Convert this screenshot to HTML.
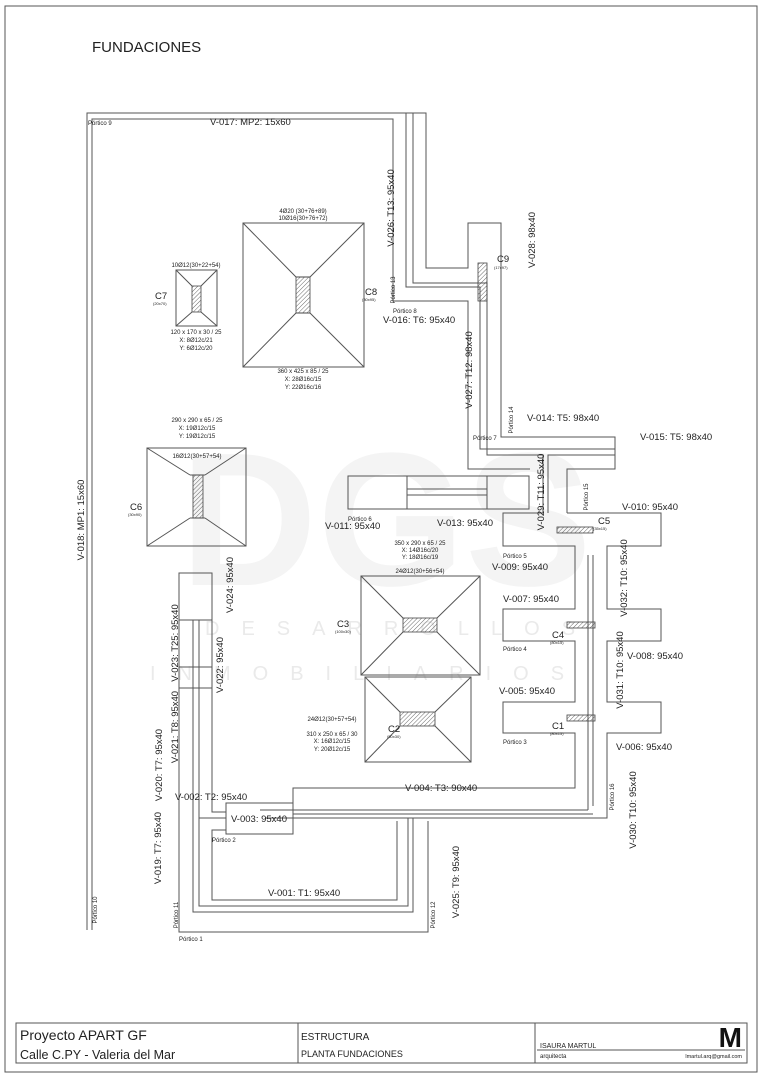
<!DOCTYPE html>
<html><head><meta charset="utf-8"><style>
html,body{margin:0;padding:0;background:#fff}
svg{display:block}
text{font-family:"Liberation Sans",sans-serif;fill:#222}
.l{fill:none;stroke:#555;stroke-width:1}
.s{font-size:9.5px}
.t{font-size:6px;fill:#444}
.u{font-size:4px;fill:#666}
.m{font-size:7px}
</style></head><body>
<svg width="763" height="1080" viewBox="0 0 763 1080" xmlns="http://www.w3.org/2000/svg">
<defs><pattern id="h" width="3" height="3" patternUnits="userSpaceOnUse" patternTransform="rotate(45)"><line x1="0" y1="0" x2="0" y2="3" stroke="#444" stroke-width="0.8"/></pattern></defs>
<rect x="5" y="6" width="752" height="1066" class="l" stroke="#666"/>
<!-- watermark -->
<text x="180" y="585" style="font-size:190px;fill:#f4f4f4;font-weight:bold">DGS</text>
<text x="205" y="635" style="font-size:20px;fill:#eaeaea;letter-spacing:22px">DESARROLLOS</text>
<text x="150" y="680" style="font-size:20px;fill:#eaeaea;letter-spacing:22px">INMOBILIARIOS</text>

<text x="92" y="52" style="font-size:15px">FUNDACIONES</text>

<g class="l">
<!-- left/top perimeter -->
<polyline points="87,930 87,113 426,113 426,268 468,268 468,223 501,223 501,437 615,437 615,469 567,469 567,513"/>
<polyline points="92,930 92,119 393,119 393,301 468,301 468,469 530,469"/>
<polyline points="406,113 406,287 480,287 480,449 615,449"/>
<polyline points="413,113 413,283 487,283 487,455 543,455 543,513"/>
<polyline points="548,513 548,455 615,455"/>
<!-- C5 box -->
<polyline points="543,513 503,513 503,546 575,546 575,609 503,609 503,641 575,641 575,702 503,702 503,733 575,733 575,788 293,788 293,803"/>
<polyline points="567,513 661,513 661,546 607,546 607,609 661,609 661,641 607,641 607,702 661,702 661,733 607,733 607,818 265,818"/>
<line x1="588" y1="555" x2="588" y2="810"/>
<line x1="593" y1="555" x2="593" y2="806"/>
<line x1="588" y1="810" x2="260" y2="810"/>
<line x1="593" y1="814" x2="293" y2="814"/>
<!-- portico 6 -->
<rect x="348" y="476" width="181" height="33"/>
<rect x="407" y="476" width="80" height="33"/>
<line x1="407" y1="489" x2="487" y2="489"/><line x1="407" y1="495" x2="487" y2="495"/>
<!-- lower-left -->
<rect x="179" y="573" width="33" height="115"/>
<line x1="179" y1="620" x2="212" y2="620"/><line x1="179" y1="667" x2="212" y2="667"/>
<polyline points="179,688 179,932 428,932 428,821"/>
<polyline points="193,620 193,912 413,912 413,818"/>
<polyline points="199,620 199,906 408,906 408,818"/>
<polyline points="212,688 212,812 226,812"/>
<line x1="199" y1="818" x2="226" y2="818"/>
<polyline points="226,830 212,830 212,900 397,900 397,821"/>
<rect x="226" y="803" width="67" height="31"/>
<!-- pile caps -->
<rect x="243" y="223" width="121" height="144"/>
<path d="M243,223 L296,277 M364,223 L310,277 M243,367 L296,313 M364,367 L310,313 M296,277 L310,277 M296,313 L310,313"/>
<rect x="176" y="270" width="41" height="56"/>
<path d="M176,270 L192,286 M217,270 L201,286 M176,326 L192,312 M217,326 L201,312"/>
<rect x="147" y="448" width="99" height="98"/>
<path d="M147,448 L190,475 M246,448 L205,475 M147,546 L190,518 M246,546 L205,518 M190,475 L205,475 M190,518 L205,518"/>
<rect x="361" y="576" width="119" height="99"/>
<path d="M361,576 L403,618 M480,576 L437,618 M361,675 L403,632 M480,675 L437,632"/>
<rect x="365" y="677" width="106" height="85"/>
<path d="M365,677 L400,712 M471,677 L435,712 M365,762 L400,726 M471,762 L435,726"/>
</g>
<!-- columns -->
<g stroke="#444" stroke-width="0.8" fill="url(#h)">
<rect x="296" y="277" width="14" height="36"/>
<rect x="192" y="286" width="9" height="26"/>
<rect x="193" y="475" width="10" height="43"/>
<rect x="478" y="263" width="9" height="38"/>
<rect x="403" y="618" width="34" height="14"/>
<rect x="400" y="712" width="35" height="14"/>
<rect x="557" y="527" width="36" height="6"/>
<rect x="567" y="622" width="28" height="6"/>
<rect x="567" y="715" width="28" height="6"/>
</g>

<g class="s">
<text x="210" y="125">V-017: MP2: 15x60</text>
<text x="383" y="323">V-016: T6: 95x40</text>
<text x="527" y="421">V-014: T5: 98x40</text>
<text x="640" y="440">V-015: T5: 98x40</text>
<text x="622" y="510">V-010: 95x40</text>
<text x="325" y="529">V-011: 95x40</text>
<text x="437" y="526">V-013: 95x40</text>
<text x="492" y="570">V-009: 95x40</text>
<text x="503" y="602">V-007: 95x40</text>
<text x="627" y="659">V-008: 95x40</text>
<text x="499" y="694">V-005: 95x40</text>
<text x="616" y="750">V-006: 95x40</text>
<text x="405" y="791">V-004: T3: 90x40</text>
<text x="175" y="800">V-002: T2: 95x40</text>
<text x="231" y="822">V-003: 95x40</text>
<text x="268" y="896">V-001: T1: 95x40</text>
<text transform="translate(84,520) rotate(-90)" text-anchor="middle">V-018: MP1: 15x60</text>
<text transform="translate(394,208) rotate(-90)" text-anchor="middle">V-026: T13: 95x40</text>
<text transform="translate(535,240) rotate(-90)" text-anchor="middle">V-028: 98x40</text>
<text transform="translate(472,370) rotate(-90)" text-anchor="middle">V-027: T12: 98x40</text>
<text transform="translate(544,492) rotate(-90)" text-anchor="middle">V-029: T11: 95x40</text>
<text transform="translate(627,578) rotate(-90)" text-anchor="middle">V-032: T10: 95x40</text>
<text transform="translate(623,670) rotate(-90)" text-anchor="middle">V-031: T10: 95x40</text>
<text transform="translate(636,810) rotate(-90)" text-anchor="middle">V-030: T10: 95x40</text>
<text transform="translate(233,585) rotate(-90)" text-anchor="middle">V-024: 95x40</text>
<text transform="translate(178,643) rotate(-90)" text-anchor="middle">V-023: T25: 95x40</text>
<text transform="translate(223,665) rotate(-90)" text-anchor="middle">V-022: 95x40</text>
<text transform="translate(178,727) rotate(-90)" text-anchor="middle">V-021: T8: 95x40</text>
<text transform="translate(162,765) rotate(-90)" text-anchor="middle">V-020: T7: 95x40</text>
<text transform="translate(161,848) rotate(-90)" text-anchor="middle">V-019: T7: 95x40</text>
<text transform="translate(459,882) rotate(-90)" text-anchor="middle">V-025: T9: 95x40</text>
<text x="365" y="295">C8</text><text x="155" y="299">C7</text><text x="130" y="510">C6</text>
<text x="497" y="262">C9</text><text x="598" y="524">C5</text><text x="552" y="638">C4</text>
<text x="552" y="729">C1</text><text x="388" y="732">C2</text><text x="337" y="627">C3</text>
</g>
<g class="t">
<text x="88" y="125">Pórtico 9</text>
<text x="393" y="313">Pórtico 8</text>
<text x="473" y="440">Pórtico 7</text>
<text x="348" y="521">Pórtico 6</text>
<text x="503" y="558">Pórtico 5</text>
<text x="503" y="651">Pórtico 4</text>
<text x="503" y="744">Pórtico 3</text>
<text x="212" y="842">Pórtico 2</text>
<text x="179" y="941">Pórtico 1</text>
<text transform="translate(395,290) rotate(-90)" text-anchor="middle">Pórtico 13</text>
<text transform="translate(513,420) rotate(-90)" text-anchor="middle">Pórtico 14</text>
<text transform="translate(588,497) rotate(-90)" text-anchor="middle">Pórtico 15</text>
<text transform="translate(614,797) rotate(-90)" text-anchor="middle">Pórtico 16</text>
<text transform="translate(178,915) rotate(-90)" text-anchor="middle">Pórtico 11</text>
<text transform="translate(435,915) rotate(-90)" text-anchor="middle">Pórtico 12</text>
<text transform="translate(97,910) rotate(-90)" text-anchor="middle">Pórtico 10</text>
</g>
<g class="t" text-anchor="middle">
<text x="303" y="213">4Ø20 (30+76+89)</text><text x="303" y="220">10Ø16(30+76+72)</text>
<text x="303" y="373">360 x 425 x 85 / 25</text><text x="303" y="381">X: 28Ø16c/15</text><text x="303" y="389">Y: 22Ø16c/16</text>
<text x="196" y="267">10Ø12(30+22+54)</text>
<text x="196" y="334">120 x 170 x 30 / 25</text><text x="196" y="342">X: 8Ø12c/21</text><text x="196" y="350">Y: 6Ø12c/20</text>
<text x="197" y="422">290 x 290 x 65 / 25</text><text x="197" y="430">X: 19Ø12c/15</text><text x="197" y="438">Y: 19Ø12c/15</text>
<text x="197" y="458">16Ø12(30+57+54)</text>
<text x="420" y="545">350 x 290 x 65 / 25</text><text x="420" y="552">X: 14Ø16c/20</text><text x="420" y="559">Y: 18Ø16c/19</text>
<text x="420" y="573">24Ø12(30+56+54)</text>
<text x="332" y="721">24Ø12(30+57+54)</text>
<text x="332" y="736">310 x 250 x 65 / 30</text><text x="332" y="743">X: 16Ø12c/15</text><text x="332" y="751">Y: 20Ø12c/15</text>
</g>
<g class="u">
<text x="362" y="301">(30x95)</text><text x="153" y="305">(20x70)</text><text x="128" y="516">(30x90)</text>
<text x="494" y="269">(17x97)</text><text x="593" y="530">(35x15)</text><text x="550" y="644">(80x15)</text>
<text x="550" y="735">(80x15)</text><text x="387" y="738">(50x30)</text><text x="335" y="633">(100x30)</text>
</g>

<!-- title block -->
<g class="l" stroke="#444">
<rect x="16" y="1023" width="731" height="40"/>
<line x1="298" y1="1023" x2="298" y2="1063"/>
<line x1="535" y1="1023" x2="535" y2="1063"/>
<line x1="537" y1="1050" x2="745" y2="1050"/>
</g>
<text x="20" y="1040" style="font-size:14px">Proyecto  APART GF</text>
<text x="20" y="1059" style="font-size:12.5px">Calle C.PY - Valeria del Mar</text>
<text x="301" y="1040" style="font-size:10px">ESTRUCTURA</text>
<text x="301" y="1057" style="font-size:9px">PLANTA FUNDACIONES</text>
<text x="540" y="1048" style="font-size:7px">ISAURA MARTUL</text>
<text x="540" y="1058" style="font-size:6px">arquitecta</text>
<text x="742" y="1058" text-anchor="end" style="font-size:5.5px">lmartul.arq@gmail.com</text>
<text x="742" y="1047" text-anchor="end" style="font-size:28px;font-weight:bold;fill:#111">M</text>
</svg>
</body></html>
